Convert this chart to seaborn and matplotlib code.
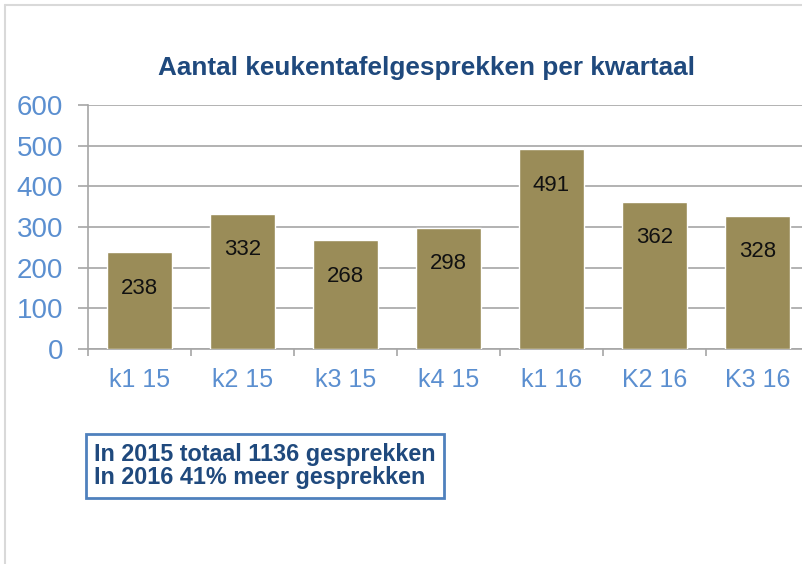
import matplotlib
matplotlib.use('Agg')
import matplotlib.pyplot as plt
import seaborn as sns
import pandas as pd
from matplotlib.lines import Line2D
from matplotlib.ticker import FixedLocator

# data
kwartalen = ['k1 15', 'k2 15', 'k3 15', 'k4 15', 'k1 16', 'K2 16', 'K3 16']
gesprekken = [238, 332, 268, 298, 491, 362, 328]
titel = 'Aantal keukentafelgesprekken per kwartaal'
notitie = 'In 2015 totaal 1136 gesprekken\nIn 2016 41% meer gesprekken'

df = pd.DataFrame({'kwartaal': kwartalen, 'aantal': gesprekken})

sns.set_style('white')
plt.rcParams['font.family'] = ['Liberation Sans', 'DejaVu Sans']

fig = plt.figure(figsize=(8.02, 5.64), dpi=100)
ax = fig.add_axes([88 / 802, 215 / 564, 721 / 802, 244 / 564])

sns.barplot(data=df, x='kwartaal', y='aantal', color='#9a8c58', saturation=1,
            width=0.64, ax=ax, zorder=3)

ax.set_ylim(0, 600)
ax.set_xlim(-0.5, len(kwartalen) - 0.5)
ax.set_yticks(range(0, 601, 100))
ax.yaxis.grid(True, color='#a6a6a6', linewidth=1.2, zorder=0)
ax.set_axisbelow(True)
ax.set_xlabel('')
ax.set_ylabel('')

for s in ['top', 'right']:
    ax.spines[s].set_visible(False)
for s in ['left', 'bottom']:
    ax.spines[s].set_color('#a6a6a6')
    ax.spines[s].set_linewidth(1.2)

ax.tick_params(axis='y', direction='out', length=7, width=1.2, color='#a6a6a6',
               pad=11, labelsize=20, labelcolor='#5b8fd0', left=True)
ax.xaxis.set_minor_locator(FixedLocator([i - 0.5 for i in range(len(kwartalen) + 1)]))
ax.tick_params(axis='x', which='major', length=0, pad=14, labelsize=18,
               labelcolor='#5b8fd0')
ax.tick_params(axis='x', which='minor', direction='out', length=5, width=1.2,
               color='#a6a6a6', bottom=True)

for i, v in enumerate(gesprekken):
    ax.annotate(str(v), (i, v), xytext=(0, -36), textcoords='offset pixels',
                ha='center', va='center', fontsize=16, color='#111111', zorder=4)

fig.text(427 / 802, 1 - 68 / 564, titel, ha='center', va='center',
         fontsize=18.8, fontweight='bold', color='#1f497d')

fig.text(94 / 802, 1 - 466 / 564, notitie, ha='left', va='center',
         fontsize=16.8, fontweight='bold', color='#1f497d', linespacing=1.05,
         bbox=dict(boxstyle='square,pad=0.35', facecolor='white',
                   edgecolor='#4f81bd', linewidth=2))

# outer chart frame
fig.add_artist(Line2D([5 / 802, 1], [1 - 5 / 564, 1 - 5 / 564], color='#d9d9d9', linewidth=1.5))
fig.add_artist(Line2D([5 / 802, 5 / 802], [0, 1 - 5 / 564], color='#d9d9d9', linewidth=1.5))

fig.savefig('out.png', dpi=100)
